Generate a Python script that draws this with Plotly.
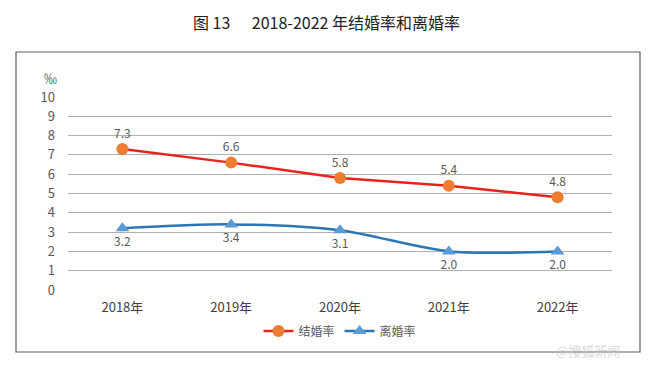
import plotly.graph_objects as go

years = ["2018年", "2019年", "2020年", "2021年", "2022年"]
marriage = [7.3, 6.6, 5.8, 5.4, 4.8]
divorce = [3.2, 3.4, 3.1, 2.0, 2.0]
y_ticks = list(range(0, 11))

W, H = 654, 368
L, R, T, B = 68, 42, 97, 78
pw, ph = W - L - R, H - T - B

def px_x(p):
    return (p - L) / pw

def px_y(p):
    return (H - B - p) / ph

font_cjk = "Noto Sans CJK SC, Open Sans, sans-serif"
label_color = "#595959"

fig = go.Figure()
fig.add_trace(go.Scatter(
    x=years, y=marriage, name="结婚率", mode="lines+markers+text",
    line=dict(color="#e8231c", width=2.5),
    marker=dict(symbol="circle", size=12, color="#ed7d31"),
    text=[f"{v:.1f}" for v in marriage], textposition="top center",
    textfont=dict(size=12, color=label_color, family=font_cjk),
))
fig.add_trace(go.Scatter(
    x=years, y=divorce, name="离婚率", mode="lines+markers+text",
    line=dict(color="#2e75b6", width=2.5, shape="spline", smoothing=0.8),
    marker=dict(symbol="triangle-up", size=12, color="#5b9bd5"),
    text=[f"{v:.1f}" for v in divorce], textposition="bottom center",
    textfont=dict(size=12, color=label_color, family=font_cjk),
))

fig.update_layout(
    width=W, height=H,
    margin=dict(l=L, r=R, t=T, b=B),
    paper_bgcolor="white", plot_bgcolor="white",
    font=dict(family=font_cjk, color=label_color, size=12),
    showlegend=True,
    legend=dict(orientation="h", x=px_x(340), xanchor="center", y=px_y(331), yanchor="middle",
                font=dict(size=12, color=label_color), bgcolor="rgba(0,0,0,0)",
                itemwidth=30, tracegroupgap=0),
    xaxis=dict(range=[-0.5, 4.5], showgrid=False, showline=False, zeroline=False, ticks="",
               tickfont=dict(size=13, color="#404040"), ticklabelstandoff=8),
    yaxis=dict(range=[0, 10], tickvals=y_ticks, showgrid=True, gridcolor="#b0b0b0",
               gridwidth=1.2, zeroline=False, showline=False, ticks="",
               tickfont=dict(size=13, color=label_color), ticklabelstandoff=12),
    shapes=[dict(type="rect", xref="paper", yref="paper",
                 x0=px_x(16), x1=px_x(640), y0=px_y(352), y1=px_y(52),
                 line=dict(color="#606060", width=1.2), fillcolor="rgba(0,0,0,0)", layer="below")],
    annotations=[
        dict(text="图 13      2018-2022 年结婚率和离婚率", xref="paper", yref="paper",
             x=px_x(326), y=px_y(22), xanchor="center", yanchor="middle", showarrow=False,
             font=dict(size=16, color="#222222", family=font_cjk)),
        dict(text="‰", xref="paper", yref="paper", x=px_x(50), y=px_y(77),
             xanchor="center", yanchor="middle", showarrow=False,
             font=dict(size=13, color=label_color)),
        dict(text="@搜狐新闻", xref="paper", yref="paper", x=px_x(588), y=px_y(350),
             xanchor="center", yanchor="middle", showarrow=False,
             font=dict(size=13, color="rgba(200,200,200,0.7)")),
    ],
)

fig.write_html("out.html", config={"displayModeBar": False},
               post_script="document.body.style.margin='0';document.body.style.overflow='hidden';")
